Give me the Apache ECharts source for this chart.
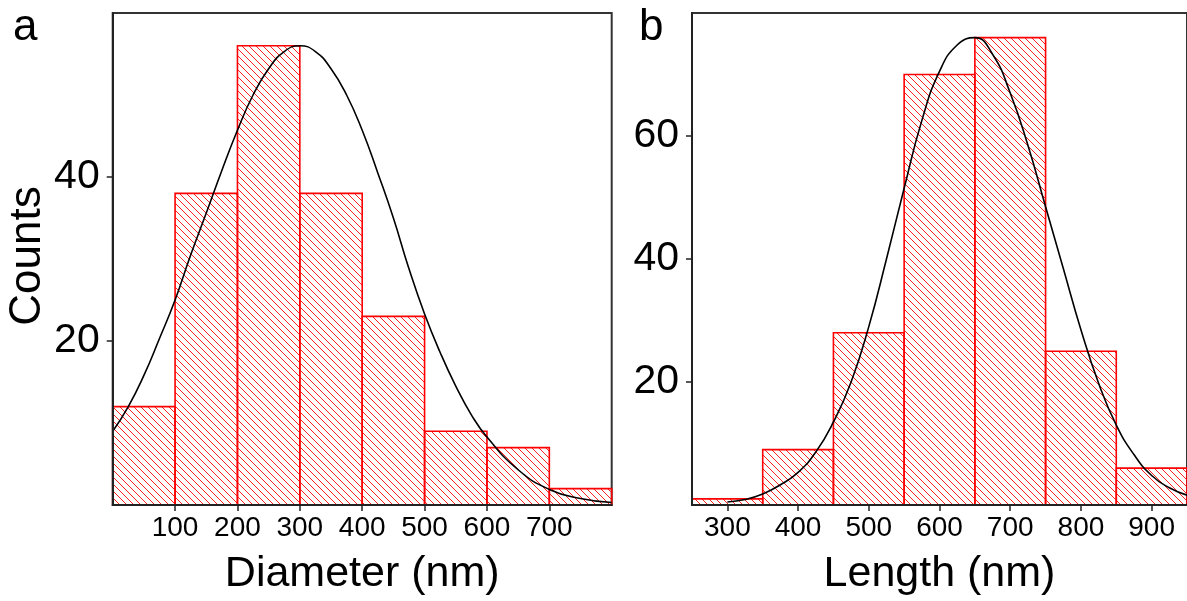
<!DOCTYPE html>
<html>
<head>
<meta charset="utf-8">
<script src="https://cdn.jsdelivr.net/npm/echarts@6/dist/echarts.min.js"></script>
<style>
html,body{margin:0;padding:0;background:#fff;}
#chart{width:1187px;height:601px;}
</style>
</head>
<body>
<div id="chart"></div>
<script>
// ---- Panel a: Diameter histogram ----
const binEdgesA = [0, 100, 200, 300, 400, 500, 600, 700, 800];
const countsA = [12, 38, 56, 38, 23, 9, 7, 2];
const curveXA = [0, 25, 50, 75, 100, 125, 150, 175, 200, 225, 250, 275, 300, 325, 350, 375, 400, 425, 450, 475, 500, 525, 550, 575, 600, 650, 700, 750, 800];
const curveYA = [9.0, 12, 15.8, 20.3, 25, 30.5, 35.6, 40.8, 45.7, 50, 53.2, 55.3, 56, 55.3, 53.2, 50, 45.7, 40.5, 35, 28.8, 23.3, 18.6, 14.5, 11, 8.3, 4.3, 1.9, 0.8, 0.3];
const xTicksA = [100, 200, 300, 400, 500, 600, 700];
const yTicksA = [20, 40];

// ---- Panel b: Length histogram ----
const binEdgesB = [250, 350, 450, 550, 650, 750, 850, 950];
const countsB = [1, 9, 28, 70, 76, 25, 6];
const curveXB = [300, 325, 350, 375, 400, 425, 450, 475, 500, 525, 550, 575, 600, 625, 650, 675, 700, 725, 750, 775, 800, 825, 850, 875, 900, 925, 950];
const curveYB = [0.5, 0.9, 1.8, 3.3, 5.3, 8.6, 13.5, 20, 29, 40, 51.5, 62.5, 70.5, 74.8, 76, 73.3, 67, 58.5, 48.5, 38.5, 28.5, 19.8, 13, 8.2, 4.8, 2.8, 1.6];
const xTicksB = [300, 400, 500, 600, 700, 800, 900];
const yTicksB = [20, 40, 60];

const panelLetters = ['a', 'b'];
const xNames = ['Diameter (nm)', 'Length (nm)'];
const yName = 'Counts';

// hatch pattern
function makeHatch() {
  const s = 7;
  const c = document.createElement('canvas');
  c.width = s; c.height = s;
  const g = c.getContext('2d');
  g.strokeStyle = '#ff2020';
  g.lineWidth = 1;
  g.beginPath();
  for (let k = -1; k <= 1; k++) {
    g.moveTo(k * s, 0);
    g.lineTo(k * s + s, s);
  }
  g.stroke();
  return c;
}
const hatch = makeHatch();

function histData(edges, counts) {
  return counts.map((v, i) => [edges[i], edges[i + 1], v]);
}
function curveData(xs, ys) {
  return xs.map((x, i) => [x, ys[i]]);
}

function renderBar(params, api) {
  const x0 = api.value(0), x1 = api.value(1), y = api.value(2);
  const p0 = api.coord([x0, y]);
  const p1 = api.coord([x1, 0]);
  return {
    type: 'rect',
    shape: { x: p0[0], y: p0[1], width: p1[0] - p0[0], height: p1[1] - p0[1] },
    style: { fill: { image: hatch, repeat: 'repeat' }, stroke: '#ff0000', lineWidth: 1.6 }
  };
}

const FONT = 'Liberation Sans, Arial, sans-serif';

function xAxisCfg(idx, min, max, ticks, name) {
  return {
    type: 'value', gridIndex: idx, min: min, max: max,
    z: 10,
    name: name, nameLocation: 'middle', nameGap: 48,
    nameTextStyle: { fontFamily: FONT, fontSize: 43, color: '#000' },
    axisLine: { show: true, onZero: false, lineStyle: { color: '#222', width: 2 } },
    axisTick: { show: true, inside: false, length: 6, customValues: ticks, lineStyle: { color: '#222', width: 1.5 } },
    axisLabel: { customValues: ticks, fontFamily: FONT, fontSize: 28, color: '#000', margin: 9 },
    splitLine: { show: false }
  };
}
function yAxisCfg(idx, max, ticks) {
  return {
    type: 'value', gridIndex: idx, min: 0, max: max,
    z: 10,
    axisLine: { show: true, onZero: false, lineStyle: { color: '#222', width: 2 } },
    axisTick: { show: true, inside: false, length: 6, customValues: ticks, lineStyle: { color: '#222', width: 1.5 } },
    axisLabel: { customValues: ticks, fontFamily: FONT, fontSize: 41, color: '#000', margin: 13 },
    splitLine: { show: false }
  };
}

const chart = echarts.init(document.getElementById('chart'), null, { renderer: 'canvas' });
chart.setOption({
  animation: false,
  backgroundColor: '#fff',
  grid: [
    { left: 112.7, top: 13, width: 499, height: 495, show: true, borderColor: '#333', borderWidth: 2, backgroundColor: 'transparent' },
    { left: 692, top: 13, width: 499, height: 495, show: true, borderColor: '#333', borderWidth: 2, backgroundColor: 'transparent' }
  ],
  xAxis: [
    xAxisCfg(0, 0, 800, xTicksA, xNames[0]),
    xAxisCfg(1, 250, 950, xTicksB, xNames[1])
  ],
  yAxis: [
    yAxisCfg(0, 60, yTicksA),
    yAxisCfg(1, 80, yTicksB)
  ],
  graphic: [
    { type: 'text', left: 13, top: 6, style: { text: panelLetters[0], font: '44px ' + FONT, fill: '#000' } },
    { type: 'text', left: 639, top: 6, style: { text: panelLetters[1], font: '44px ' + FONT, fill: '#000' } },
    { type: 'text', x: 28, y: 256, rotation: Math.PI / 2, style: { text: yName, font: '44px ' + FONT, fill: '#000', align: 'center', verticalAlign: 'middle' } }
  ],
  series: [
    { type: 'custom', xAxisIndex: 0, yAxisIndex: 0, renderItem: renderBar, data: histData(binEdgesA, countsA), z: 2 },
    { type: 'custom', xAxisIndex: 1, yAxisIndex: 1, renderItem: renderBar, data: histData(binEdgesB, countsB), z: 2 },
    { type: 'line', xAxisIndex: 0, yAxisIndex: 0, data: curveData(curveXA, curveYA), smooth: true, showSymbol: false, lineStyle: { color: '#000', width: 1.6 }, z: 5 },
    { type: 'line', xAxisIndex: 1, yAxisIndex: 1, data: curveData(curveXB, curveYB), smooth: true, showSymbol: false, lineStyle: { color: '#000', width: 1.6 }, z: 5 }
  ]
});
</script>
</body>
</html>
